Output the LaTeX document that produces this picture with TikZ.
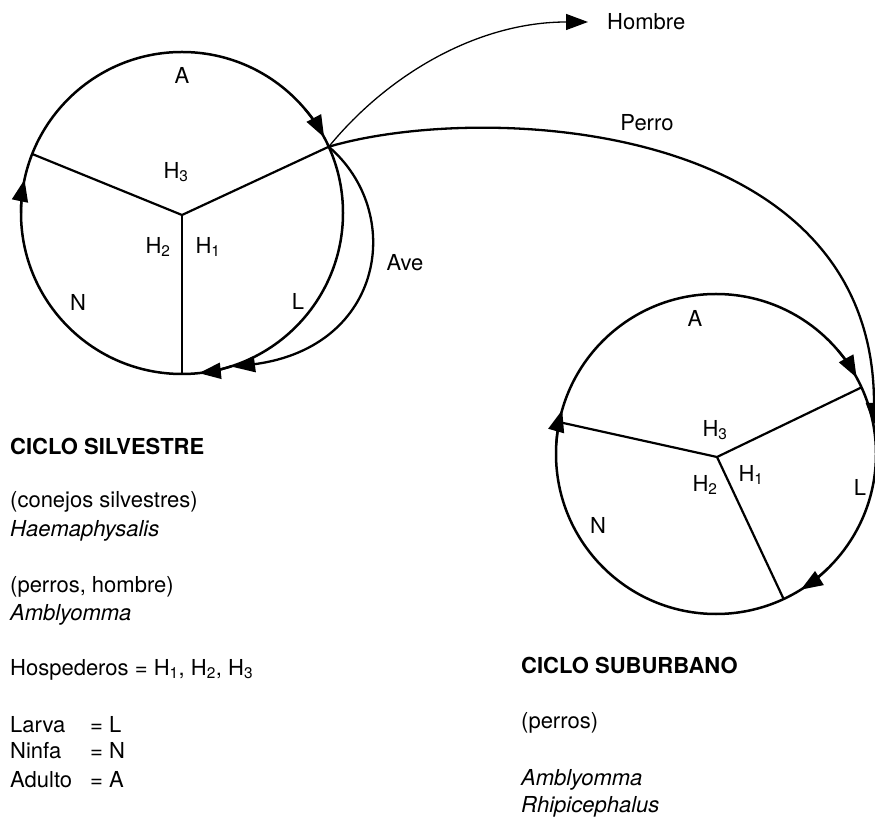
\documentclass[tikz,border=0pt]{standalone}
\usepackage{fontspec}
\setmainfont{TeX Gyre Heros}
\usetikzlibrary{arrows.meta,calc}
\begin{document}
\begin{tikzpicture}[x=1pt,y=1pt,
  ring/.style={line width=2.5pt},
  spoke/.style={line width=2.2pt},
  tip/.style={line width=2.3pt,-{Triangle[length=22pt,width=16pt]}},
  thintip/.style={line width=1.3pt,-{Triangle[length=22pt,width=16pt]}},
  lbl/.style={font=\fontsize{22}{26}\selectfont, inner sep=0pt},
  txt/.style={font=\fontsize{22}{26}\selectfont, inner sep=0pt, anchor=base west}]
\useasboundingbox (0,0) rectangle (875,817);

% ---------- circle 1 (silvestre)
\coordinate (C1) at (182,604);
\coordinate (J1) at (182,602);
\coordinate (S1a) at ($(C1)+(24.3:161)$);
\coordinate (S1b) at ($(C1)+(158.5:161)$);
\coordinate (S1c) at ($(C1)+(-90:161)$);
\draw[ring] (C1) circle[radius=161];
\draw[spoke] (S1a) -- (J1) -- (S1b);
\draw[spoke] (J1) -- (S1c);
\draw[tip] ($(C1)+(40:161)$) arc[start angle=40,end angle=28,radius=161];
\draw[tip] ($(C1)+(180:161)$) arc[start angle=180,end angle=168,radius=161];
\draw[tip] ($(C1)+(288:161)$) arc[start angle=288,end angle=276,radius=161];

\node[lbl] (a1) at (182,742) {A};
\node[lbl] (h31) at (176,645) {H\textsubscript{3}};
\node[lbl] (h21) at (158,570) {H\textsubscript{2}};
\node[lbl] (h11) at (208,570) {H\textsubscript{1}};
\node[lbl] (n1) at (78,515) {N};
\node[lbl] (l1) at (298,516) {L};

% ---------- circle 2 (suburbano)
\coordinate (C2) at (716,363);
\coordinate (J2) at (717,360);
\coordinate (S2a) at ($(C2)+(24.6:160)$);
\coordinate (S2b) at ($(C2)+(168.5:160)$);
\coordinate (S2c) at ($(C2)+(-65:160)$);
\draw[ring] (C2) circle[radius=160];
\draw[spoke] (S2a) -- (J2) -- (S2b);
\draw[spoke] (J2) -- (S2c);
\draw[tip] ($(C2)+(40.5:160)$) arc[start angle=40.5,end angle=28.5,radius=160];
\draw[tip] ($(C2)+(176:160)$) arc[start angle=176,end angle=164,radius=160];
\draw[tip] ($(C2)+(314:160)$) arc[start angle=314,end angle=302,radius=160];

\node[lbl] (a2) at (695,499) {A};
\node[lbl] (h32) at (715,387) {H\textsubscript{3}};
\node[lbl] (h12) at (751,342) {H\textsubscript{1}};
\node[lbl] (h22) at (705,332) {H\textsubscript{2}};
\node[lbl] (n2) at (598,292) {N};
\node[lbl] (l2) at (860,330) {L};

% ---------- connectors
\coordinate (aveend) at (233,450);
\coordinate (perroend) at (874,392);
\node[lbl, anchor=west] (hombre) at (607,795) {Hombre};
\node[lbl] (perro) at (647,694) {Perro};
\node[lbl] (ave) at (405,554) {Ave};

\draw[thintip] (S1a) .. controls (390,745) and (480,795) .. ([xshift=-19pt]hombre.west);
\draw[tip] (S1a) .. controls (480,715) and (874,700) .. (perroend);
\draw[tip] (S1a) .. controls (405,605) and (385,470) .. (aveend);

% ---------- legend left
\node[txt] (t1) at (10,362) {\bfseries CICLO SILVESTRE};
\node[txt] (t2) at (10,309) {(conejos silvestres)};
\node[txt] (t3) at (10,280) {\itshape Haemaphysalis};
\node[txt] (t4) at (10,225) {(perros, hombre)};
\node[txt] (t5) at (10,197) {\itshape Amblyomma};
\node[txt] (t6) at (10,142) {Hospederos = H\textsubscript{1}, H\textsubscript{2}, H\textsubscript{3}};
\node[txt] (t7) at (10,85) {Larva};
\node[txt] (t7b) at (90,85) {= L};
\node[txt] (t8) at (10,59) {Ninfa};
\node[txt] (t8b) at (90,59) {= N};
\node[txt] (t9) at (10,30) {Adulto};
\node[txt] (t9b) at (90,30) {= A};

% ---------- legend right
\node[txt] (u1) at (521,144) {\bfseries CICLO SUBURBANO};
\node[txt] (u2) at (521,89) {(perros)};
\node[txt] (u3) at (521,32) {\itshape Amblyomma};
\node[txt] (u4) at (521,5) {\itshape Rhipicephalus};
\end{tikzpicture}
\end{document}
